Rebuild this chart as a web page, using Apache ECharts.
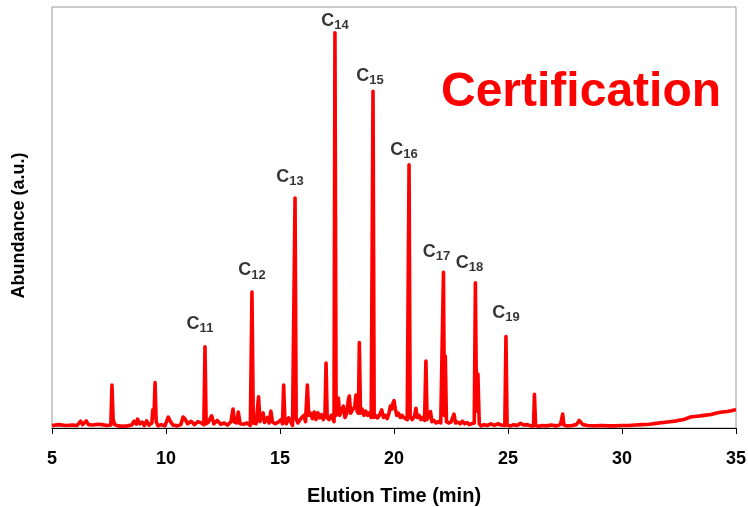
<!DOCTYPE html>
<html>
<head>
<meta charset="utf-8">
<script src="https://cdn.jsdelivr.net/npm/echarts@6/dist/echarts.min.js"></script>
<style>
  html, body { margin: 0; padding: 0; background: #fff; }
  #chart { width: 748px; height: 507px; }
</style>
</head>
<body>
<div id="chart"></div>
<script>
// elution time (min) and detector abundance (a.u.)
const elutionTime = [
  5.0, 5.3, 5.6, 5.9, 6.1, 6.25, 6.35, 6.5, 6.6, 6.8, 7.0, 7.2, 7.4,
  7.58, 7.63, 7.68, 7.75, 7.9, 8.1, 8.3, 8.5, 8.6, 8.7, 8.75, 8.85, 8.95, 9.05, 9.15, 9.25,
  9.38, 9.42, 9.47, 9.52, 9.57, 9.65, 9.8, 9.95, 10.1, 10.2, 10.3, 10.5, 10.65, 10.75, 10.85,
  10.95, 11.1, 11.25, 11.4, 11.55, 11.66, 11.71, 11.76, 11.85, 12.0, 12.1, 12.25, 12.4, 12.55,
  12.7, 12.85, 12.94, 13.0, 13.1, 13.17, 13.25, 13.4, 13.55, 13.7, 13.77, 13.83, 13.95, 14.06,
  14.12, 14.2, 14.26, 14.32, 14.45, 14.52, 14.6, 14.67, 14.8, 14.95, 15.05, 15.11, 15.16, 15.21,
  15.28, 15.38, 15.47, 15.55, 15.62, 15.66, 15.71, 15.78, 15.85, 15.95, 16.05, 16.12, 16.2, 16.26,
  16.34, 16.42, 16.5, 16.58, 16.66, 16.74, 16.82, 16.9, 16.97, 17.02, 17.07, 17.15, 17.25, 17.33,
  17.37, 17.41, 17.46, 17.52, 17.56, 17.62, 17.7, 17.78, 17.85, 17.93, 18.0, 18.04, 18.1, 18.2,
  18.28, 18.33, 18.38, 18.44, 18.48, 18.53, 18.6, 18.68, 18.76, 18.84, 18.92, 19.0, 19.04, 19.08,
  19.13, 19.2, 19.28, 19.36, 19.46, 19.54, 19.62, 19.7, 19.78, 19.84, 19.9, 19.96, 20.0, 20.06,
  20.12, 20.2, 20.28, 20.36, 20.42, 20.5, 20.58, 20.62, 20.66, 20.71, 20.8, 20.9, 20.96, 21.02,
  21.1, 21.18, 21.26, 21.34, 21.4, 21.45, 21.52, 21.6, 21.66, 21.75, 21.85, 21.95, 22.05, 22.12,
  22.17, 22.21, 22.25, 22.3, 22.4, 22.5, 22.63, 22.7, 22.8, 22.9, 23.0, 23.1, 23.2, 23.3, 23.4,
  23.52, 23.57, 23.62, 23.68, 23.74, 23.82, 23.95, 24.1, 24.25, 24.4, 24.55, 24.7, 24.86, 24.91,
  24.96, 25.1, 25.25, 25.4, 25.55, 25.7, 25.85, 26.0, 26.12, 26.16, 26.21, 26.35, 26.5, 26.7,
  26.9, 27.1, 27.3, 27.36, 27.4, 27.45, 27.6, 27.8, 28.0, 28.12, 28.2, 28.28, 28.5, 28.8, 29.1,
  29.4, 29.7, 30.0, 30.3, 30.6, 30.9, 31.2, 31.5, 31.8, 32.1, 32.4, 32.7, 33.0, 33.3, 33.6,
  33.9, 34.2, 34.4, 34.6, 34.8, 35.0
];
const abundance = [
  0.6, 0.8, 0.6, 0.7, 0.6, 1.6, 0.8, 1.7, 0.8, 0.7, 0.9, 0.8, 0.6,
  0.7, 10.2, 2.0, 0.8, 0.5, 0.4, 0.5, 0.7, 1.6, 0.9, 2.1, 1.0, 1.4, 0.6, 1.7, 0.7,
  1.2, 4.3, 2.5, 10.8, 1.5, 0.5, 0.8, 0.5, 2.6, 1.5, 0.7, 0.5, 0.8, 2.6, 2.0,
  1.0, 1.6, 0.8, 1.5, 1.2, 0.8, 19.3, 1.0, 1.3, 2.9, 1.0, 1.8, 0.9, 1.2,
  0.7, 1.5, 4.5, 1.4, 1.2, 3.8, 1.0, 0.9, 1.2, 0.6, 32.3, 1.2, 1.0, 7.4,
  1.5, 1.2, 3.6, 1.3, 2.5, 1.2, 4.0, 1.4, 1.0, 1.5, 2.0, 1.0, 10.2, 2.5,
  1.0, 2.4, 1.5, 0.6, 1.0, 54.6, 2.2, 1.2, 1.0, 2.5, 3.0, 1.5, 10.2, 3.0,
  3.5, 2.2, 3.8, 2.0, 3.6, 2.4, 3.2, 2.0, 2.8, 15.4, 2.5, 2.0, 3.0, 2.0,
  1.5, 93.9, 3.0, 3.5, 7.1, 3.0, 2.8, 5.2, 2.5, 3.5, 6.8, 7.6, 3.5, 4.5,
  5.0, 7.8, 4.0, 3.5, 20.3, 3.5, 4.5, 3.0, 4.0, 3.0, 3.6, 2.5, 2.2, 80.0,
  2.5, 3.0, 2.4, 3.0, 4.3, 2.5, 3.0, 2.2, 3.5, 5.2, 4.5, 6.0, 6.5, 4.5,
  3.0, 3.5, 2.5, 3.0, 2.5, 2.8, 2.0, 2.2, 62.5, 2.5, 2.0, 2.8, 4.7, 2.5,
  3.0, 2.0, 2.5, 1.8, 15.9, 2.0, 1.6, 3.9, 1.5, 1.8, 1.2, 1.5, 1.2, 1.0,
  37.0, 3.0, 17.1, 1.5, 1.2, 1.4, 3.3, 1.2, 1.4, 1.0, 1.6, 1.0, 1.3, 0.8, 1.0,
  1.2, 34.5, 4.0, 12.8, 1.0, 0.5, 0.8, 0.6, 1.0, 0.6, 1.0, 0.7, 0.6, 21.7,
  0.7, 0.5, 0.8, 0.6, 1.1, 0.7, 0.8, 0.5, 0.5, 8.0, 0.6, 0.4, 0.6, 0.5,
  0.7, 0.5, 0.8, 0.8, 3.3, 0.7, 0.5, 0.6, 0.8, 1.8, 2.1, 0.8, 0.6, 0.5, 0.6,
  0.5, 0.5, 0.6, 0.6, 0.7, 0.8, 0.9, 1.1, 1.3, 1.5, 1.7, 2.0, 2.6, 2.8, 3.0,
  3.2, 3.6, 3.8, 3.9, 4.1, 4.4
];

// n-alkane peaks that carry a label
const peakNames = ['11', '12', '13', '14', '15', '16', '17', '18', '19'];
const peakTimes = [11.71, 13.77, 15.66, 17.41, 19.08, 20.66, 22.17, 23.57, 24.91];
const peakHeights = [19.3, 32.3, 54.6, 93.9, 80.0, 62.5, 37.0, 34.5, 21.7];

const xTicks = [5, 10, 15, 20, 25, 30, 35];

const FONT = 'Arial, "Liberation Sans", sans-serif';

const chart = echarts.init(document.getElementById('chart'), null, { renderer: 'canvas' });

const trace = elutionTime.map((t, i) => [t, abundance[i]]);

// nudges so the labels sit where they were placed in the figure
const labelShift = [[-5, -11], [0, -10], [-5, -10], [0, 0], [-3, -4], [-5, -3], [-7, -9], [-6, -8], [0, -12]];

const peaks = peakNames.map((n, i) => ({
  name: n,
  value: [peakTimes[i], peakHeights[i]],
  label: { offset: labelShift[i] }
}));

const option = {
  animation: false,
  backgroundColor: '#fff',
  title: {
    text: 'Certification',
    left: 441,
    top: 69,
    padding: 0,
    textStyle: { color: '#ff0000', fontSize: 48, fontWeight: 'bold', fontFamily: FONT }
  },
  grid: {
    left: 52, right: 12, top: 7, bottom: 79,
    outerBoundsMode: 'none',
    containLabel: false,
    show: true, borderColor: '#999', borderWidth: 1, backgroundColor: 'transparent'
  },
  xAxis: {
    type: 'value',
    min: 5, max: 35, interval: 5,
    name: 'Elution Time (min)',
    nameLocation: 'middle',
    nameGap: 58,
    nameTextStyle: { color: '#000', fontSize: 20, fontWeight: 'bold', fontFamily: FONT },
    axisLine: { show: true, onZero: false, lineStyle: { color: '#000', width: 1 } },
    axisTick: { show: true, inside: false, length: 6, lineStyle: { color: '#000' } },
    axisLabel: {
      color: '#000', fontSize: 18, fontWeight: 'bold', fontFamily: FONT, margin: 22,
      formatter: v => (xTicks.indexOf(v) >= 0 ? String(v) : '')
    },
    splitLine: { show: false }
  },
  yAxis: {
    type: 'value',
    min: 0, max: 100,
    name: 'Abundance (a.u.)',
    nameLocation: 'middle',
    nameGap: 24,
    nameTextStyle: {
      color: '#000', fontSize: 18, fontWeight: 'bold', fontFamily: FONT,
      padding: [0, 16, 0, 0]
    },
    axisLine: { show: false },
    axisTick: { show: false },
    axisLabel: { show: false },
    splitLine: { show: false }
  },
  series: [
    {
      type: 'line',
      data: trace,
      symbol: 'none',
      silent: true,
      clip: true,
      lineStyle: { color: '#ff0000', width: 3.6, join: 'round' }
    },
    {
      type: 'scatter',
      data: peaks,
      symbolSize: 1,
      silent: true,
      itemStyle: { color: 'rgba(0,0,0,0)' },
      label: {
        show: true,
        position: 'top',
        distance: 0,
        color: '#000',
        formatter: p => '{c|C}{s|' + p.name + '}',
        rich: {
          c: { fontSize: 18, fontWeight: 'bold', color: '#000', fontFamily: FONT, lineHeight: 20, verticalAlign: 'top' },
          s: { fontSize: 13, fontWeight: 'bold', color: '#000', fontFamily: FONT, lineHeight: 13, padding: [9, 0, 0, 0], verticalAlign: 'bottom' }
        }
      }
    }
  ]
};

chart.setOption(option);
</script>
</body>
</html>
